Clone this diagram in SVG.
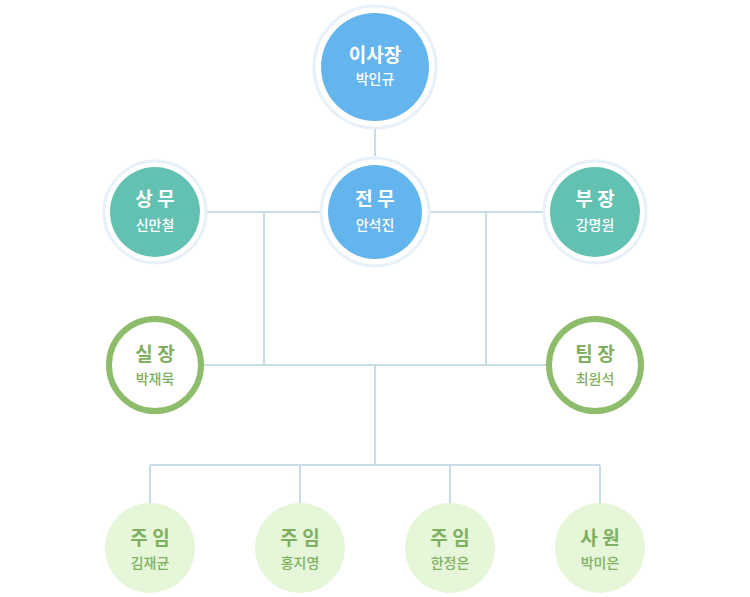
<svg xmlns="http://www.w3.org/2000/svg" width="750" height="597" viewBox="0 0 750 597">
<style>
.ring{fill:#fff;stroke:#e8f1f9;stroke-width:3}
.t1{font-family:"Noto Sans CJK KR","Noto Sans",sans-serif;font-size:19px;font-weight:bold;text-anchor:middle}
.t2{font-family:"Noto Sans CJK KR","Noto Sans",sans-serif;font-size:14px;font-weight:500;text-anchor:middle}
.w{fill:#fff}
.g{fill:#7fb061}
.ln{stroke:#c7dde6;stroke-width:2;fill:none}
</style>
<rect width="750" height="597" fill="#fff"/>
<g id="connectors" class="ln">
<path d="M375 128V156M207 212H323M427 212H543M264 212V365M486 212V365M200 365H550M375 365V465M150 465H600M150 465V504M300 465V504M450 465V504M600 465V504"/>
</g>
<g id="n1"><circle class="ring" cx="375" cy="67" r="61"/><circle cx="375" cy="67" r="54" fill="#64b5ee"/><text class="t1 w" x="375" y="62">이사장</text><text class="t2 w" x="375" y="84">박인규</text></g>
<g id="n2"><circle class="ring" cx="155" cy="212" r="51"/><circle cx="155" cy="212" r="45" fill="#62c1b0"/><text class="t1 w" x="155" y="206">상 무</text><text class="t2 w" x="155" y="230">신만철</text></g>
<g id="n3"><circle class="ring" cx="375" cy="212" r="54"/><circle cx="375" cy="212" r="47" fill="#64b5ee"/><text class="t1 w" x="375" y="206">전 무</text><text class="t2 w" x="375" y="230">안석진</text></g>
<g id="n4"><circle class="ring" cx="595" cy="212" r="51"/><circle cx="595" cy="212" r="45" fill="#62c1b0"/><text class="t1 w" x="595" y="206">부 장</text><text class="t2 w" x="595" y="230">강명원</text></g>
<g id="n5"><circle cx="155" cy="365" r="46" fill="#fff" stroke="#8dbd6b" stroke-width="6"/><text class="t1 g" x="155" y="361">실 장</text><text class="t2 g" x="155" y="384">박재묵</text></g>
<g id="n6"><circle cx="595" cy="365" r="46" fill="#fff" stroke="#8dbd6b" stroke-width="6"/><text class="t1 g" x="595" y="361">팀 장</text><text class="t2 g" x="595" y="384">최원석</text></g>
<g id="n7"><circle cx="150" cy="548" r="45" fill="#e5f6d9"/><text class="t1 g" x="150" y="545">주 임</text><text class="t2 g" x="150" y="568">김재균</text></g>
<g id="n8"><circle cx="300" cy="548" r="45" fill="#e5f6d9"/><text class="t1 g" x="300" y="545">주 임</text><text class="t2 g" x="300" y="568">홍지영</text></g>
<g id="n9"><circle cx="450" cy="548" r="45" fill="#e5f6d9"/><text class="t1 g" x="450" y="545">주 임</text><text class="t2 g" x="450" y="568">한정은</text></g>
<g id="n10"><circle cx="600" cy="548" r="45" fill="#e5f6d9"/><text class="t1 g" x="600" y="545">사 원</text><text class="t2 g" x="600" y="568">박미은</text></g>
</svg>
